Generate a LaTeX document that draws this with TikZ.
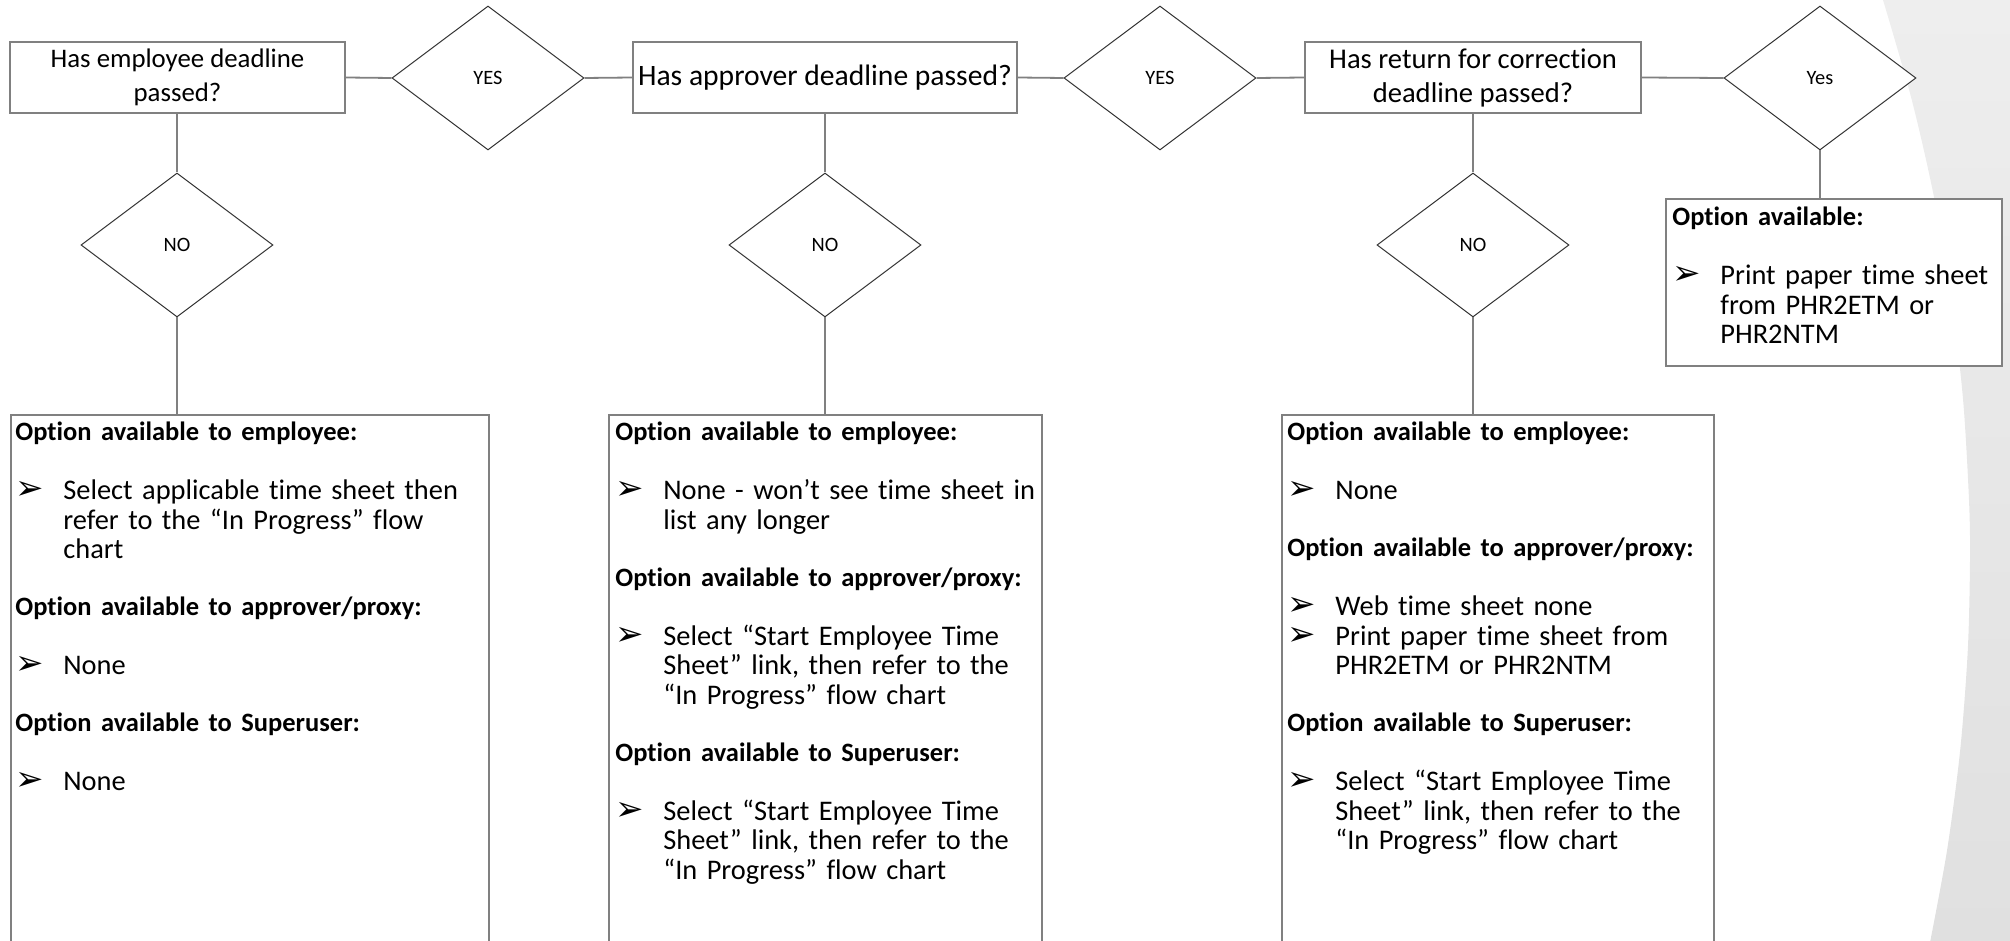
\documentclass[tikz,border=0pt]{standalone}
\usepackage{fontspec}
\setmainfont[Ligatures={NoCommon}]{Carlito}
\newfontfamily\dejavu{DejaVu Sans}
\usetikzlibrary{shapes.geometric}

\newcommand\hd[1]{\noindent{\fontsize{13.25pt}{14.75pt}\bfseries\selectfont #1\par}}
\newcommand\bl[1]{\hangindent=24pt\hangafter=1\noindent\makebox[24pt][l]{\smash{\dejavu\fontsize{17pt}{17pt}\selectfont\char"27A2}}#1\par}
\newcommand\gh{\vspace{14.75pt}}
\newcommand\gp{\vspace{13.75pt}}

\tikzset{
  tbox/.style={draw=black!50, line width=0.9pt, fill=white, inner sep=2pt, align=center, minimum width=167.5pt, minimum height=35.5pt},
  obox/.style={draw=black!50, line width=0.9pt, fill=white, inner sep=0pt, anchor=north west},
  dia/.style={diamond, draw=black!80, line width=0.5pt, fill=white, minimum width=96pt, minimum height=72pt, inner sep=0pt, font=\fontsize{10.2pt}{12pt}\selectfont},
  bodytext/.style={anchor=base west, inner sep=0pt, text width=#1, align=left, font=\fontsize{14.2pt}{14.75pt}\selectfont},
  conn/.style={draw=black!50, line width=0.9pt}
}

\begin{document}
\begin{tikzpicture}[x=0.5pt, y=-0.5pt]
\useasboundingbox (0,0) rectangle (2010,941);
\begin{scope}
\clip (0,0) rectangle (2010,941);
\shade[top color={rgb,255:red,238;green,238;blue,238}, bottom color={rgb,255:red,224;green,224;blue,224}]
  plot[smooth] coordinates {(1883,0) (1911.8,100) (1934.6,200) (1951.6,300) (1963.1,400) (1969,500) (1970,560) (1967.8,650) (1960.2,750) (1947.1,850) (1930.3,941)}
  -- (2010,941) -- (2010,0) -- cycle;

% top row
\node[tbox, font=\fontsize{13.4pt}{17pt}\selectfont] (b1) at (177.5,77.5) {Has employee deadline\\passed?};
\node[dia] (y1) at (488,78) {YES};
\node[tbox, minimum width=192pt, font=\fontsize{14.8pt}{17pt}\selectfont] (b2) at (825,77.5) {Has approver deadline passed?};
\node[dia] (y2) at (1160,78) {YES};
\node[tbox, minimum width=168pt, font=\fontsize{14.3pt}{17pt}\selectfont] (b3) at (1473,77.5) {Has return for correction\\deadline passed?};
\node[dia] (y3) at (1820,78) {Yes};

% NO diamonds
\node[dia] (n1) at (177,245) {NO};
\node[dia] (n2) at (825,245) {NO};
\node[dia] (n3) at (1473,245) {NO};

% option boxes
\node[obox, minimum width=168pt, minimum height=83.5pt] (b4) at (1665,198) {};
\node[obox, minimum width=239pt, minimum height=272pt] (b5) at (10,414) {};
\node[obox, minimum width=216.5pt, minimum height=272pt] (b6) at (608,414) {};
\node[obox, minimum width=216pt, minimum height=272pt] (b7) at (1281,414) {};

\node[bodytext=162pt] (t4) at (1672,226) {\hd{Option available:}\gh
\bl{Print paper time sheet\newline from PHR2ETM or\newline PHR2NTM}};

\node[bodytext=234pt] (t5) at (15,441) {\hd{Option available to employee:}\gh
\bl{Select applicable time sheet then\newline refer to the “In Progress” flow\newline chart}\gp
\hd{Option available to approver/proxy:}\gh
\bl{None}\gp
\hd{Option available to Superuser:}\gh
\bl{None}};

\node[bodytext=212pt] (t6) at (615,441) {\hd{Option available to employee:}\gh
\bl{None - won’t see time sheet in\newline list any longer}\gp
\hd{Option available to approver/proxy:}\gh
\bl{Select “Start Employee Time\newline Sheet” link, then refer to the\newline “In Progress” flow chart}\gp
\hd{Option available to Superuser:}\gh
\bl{Select “Start Employee Time\newline Sheet” link, then refer to the\newline “In Progress” flow chart}};

\node[bodytext=212pt] (t7) at (1287,441) {\hd{Option available to employee:}\gh
\bl{None}\gp
\hd{Option available to approver/proxy:}\gh
\bl{Web time sheet none}
\bl{Print paper time sheet from\newline PHR2ETM or PHR2NTM}\gp
\hd{Option available to Superuser:}\gh
\bl{Select “Start Employee Time\newline Sheet” link, then refer to the\newline “In Progress” flow chart}};

% connectors
\draw[conn] (b1.east) -- (y1.west);
\draw[conn] (y1.east) -- (b2.west);
\draw[conn] (b2.east) -- (y2.west);
\draw[conn] (y2.east) -- (b3.west);
\draw[conn] (b3.east) -- (y3.west);
\draw[conn] (y3.south) -- (y3.south |- b4.north);
\draw[conn] (b1.south -| n1.north) -- (n1.north);
\draw[conn] (n1.south) -- (n1.south |- b5.north);
\draw[conn] (b2.south -| n2.north) -- (n2.north);
\draw[conn] (n2.south) -- (n2.south |- b6.north);
\draw[conn] (b3.south -| n3.north) -- (n3.north);
\draw[conn] (n3.south) -- (n3.south |- b7.north);
\end{scope}
\end{tikzpicture}
\end{document}
